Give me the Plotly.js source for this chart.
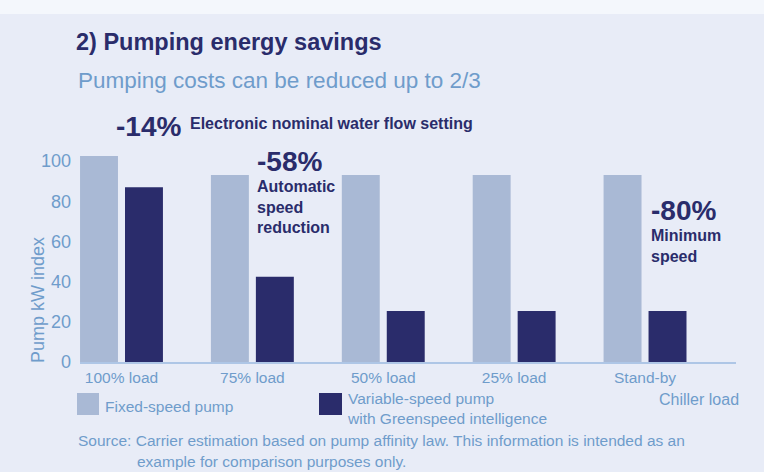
<!DOCTYPE html>
<html>
<head>
<meta charset="utf-8">
<script src="https://cdn.plot.ly/plotly-3.0.1.min.js"></script>
<style>
html,body{margin:0;padding:0;background:#e8ecf7;}
#chart{width:764px;height:472px;}
</style>
</head>
<body>
<div id="chart"></div>
<script>
const categories = ['100% load', '75% load', '50% load', '25% load', 'Stand-by'];
const fixedSpeed = [102.5, 93, 93, 93, 93];
const variableSpeed = [87, 42.4, 25.4, 25.4, 25.4];
const yTicks = [0, 20, 40, 60, 80, 100];
const seriesNames = ['Fixed-speed pump', 'Variable-speed pump<br>with Greenspeed intelligence'];

const W = 764, H = 472;
const L = 80, R = 28, T = 151, B = 110;
const pw = W - L - R, ph = H - T - B;
const px = v => (v - L) / pw;
const py = v => (H - B - v) / ph;

const navy = '#2a2c6b';
const light = '#a9b9d5';
const txt = '#6f9ccb';
const font = 'Liberation Sans, Arial, Helvetica, sans-serif';

const traces = [
  {type: 'bar', x: categories, y: fixedSpeed, name: seriesNames[0], marker: {color: light}, hoverinfo: 'none'},
  {type: 'bar', x: categories, y: variableSpeed, name: seriesNames[1], marker: {color: navy}, hoverinfo: 'none'}
];

function ann(text, x, y, size, color, bold, xanchor, yanchor) {
  return {text: bold ? '<b>' + text + '</b>' : text, xref: 'paper', yref: 'paper',
    x: px(x), y: py(y), xanchor: xanchor || 'left', yanchor: yanchor || 'middle',
    showarrow: false, align: 'left', font: {family: font, size: size, color: color}};
}
const big = s => '<span style="font-size:28px">' + s + '</span>';

const annotations = [
  ann('Pumping costs can be reduced up to 2/3', 76, 81, 22.5, txt, false),
  ann('-14%', 114, 126, 28, navy, true),
  ann('Electronic nominal water flow setting', 188, 124, 16, navy, true),
  ann(big('-58%') + '<br>Automatic<br>speed<br>reduction', 255, 144, 16, navy, true, 'left', 'top'),
  ann(big('-80%') + '<br>Minimum<br>speed', 649, 193, 16, navy, true, 'left', 'top'),
  ann('Fixed-speed pump', 103, 406, 15.5, txt, false),
  ann('Variable-speed pump<br>with Greenspeed intelligence', 345, 408, 15.5, txt, false),
  ann('Chiller load', 741, 399, 16, txt, false, 'right'),
  ann('Source: Carrier estimation based on pump affinity law. This information is intended as an', 76, 440, 15.5, txt, false),
  ann('example for comparison purposes only.', 135, 461, 15.5, txt, false),
  {text: 'Pump kW index', xref: 'paper', yref: 'paper', x: px(38), y: py(300), xanchor: 'center', yanchor: 'middle',
   textangle: -90, showarrow: false, font: {family: font, size: 18, color: txt}}
];

const shapes = [
  {type: 'rect', xref: 'paper', yref: 'paper', x0: px(0), x1: px(W), y0: py(0), y1: py(14), fillcolor: '#f4f7fc', line: {width: 0}, layer: 'below'},
  {type: 'rect', xref: 'paper', yref: 'paper', x0: px(77), x1: px(99), y0: py(393), y1: py(415), fillcolor: light, line: {width: 0}},
  {type: 'rect', xref: 'paper', yref: 'paper', x0: px(319), x1: px(342), y0: py(393), y1: py(415), fillcolor: navy, line: {width: 0}}
];

const layout = {
  width: W, height: H,
  margin: {l: L, r: R, t: T, b: B, pad: 0},
  paper_bgcolor: '#e8ecf7', plot_bgcolor: '#e8ecf7',
  showlegend: false,
  barmode: 'group', bargap: 0.313, bargroupgap: 0.156,
  title: {text: '<b>2) Pumping energy savings</b>', xref: 'container', yref: 'container',
    x: 76 / W, xanchor: 'left', y: 1 - 42 / H, yanchor: 'middle',
    font: {family: font, size: 23.5, color: navy}},
  xaxis: {type: 'category', range: [-0.317, 4.695], showgrid: false, zeroline: false,
    showline: true, linecolor: '#aec6e6', linewidth: 2, ticks: '', ticklabelstandoff: 0,
    tickfont: {family: font, size: 15.5, color: txt}, fixedrange: true},
  yaxis: {range: [0, 105], tickvals: yTicks, showgrid: false, zeroline: false, showline: false,
    ticks: '', ticklabelstandoff: 8, tickfont: {family: font, size: 18, color: txt}, fixedrange: true},
  annotations: annotations,
  shapes: shapes
};

Plotly.newPlot('chart', traces, layout, {staticPlot: true});
</script>
</body>
</html>
